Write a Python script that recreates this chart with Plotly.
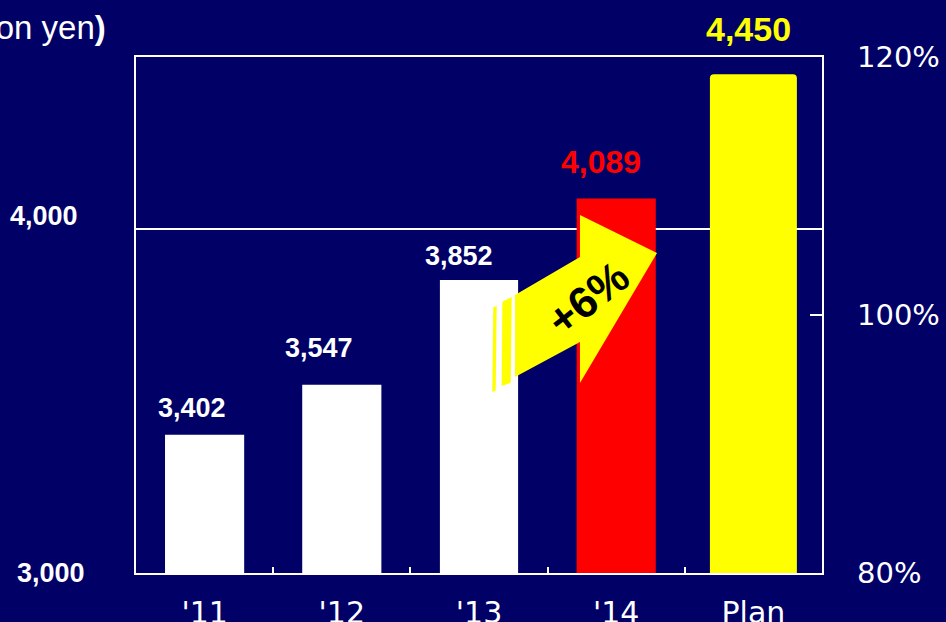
import plotly.graph_objects as go

# ---- data ----
categories = ["'11", "'12", "'13", "'14", "Plan"]
values = [3402, 3547, 3852, 4089, 4450]
bar_colors = ["#ffffff", "#ffffff", "#ffffff", "#ff0000", "#ffff00"]
label_colors = ["#ffffff", "#ffffff", "#ffffff", "#ff0000", "#ffff00"]
left_ticks = [3000, 4000]
right_ticks = [80, 100, 120]
right_tick_text = ["80%", "100%", "120%"]
growth_text = "+6%"

# ---- layout constants (pixels) ----
W, H = 946, 622
ML, MR, MT, MB = 136, 124, 57, 49
PW, PH = W - ML - MR, H - MT - MB
BG = "#000066"


def px(x, y):
    """Pixel position -> paper coordinates."""
    return (x - ML) / PW, (H - MB - y) / PH


def path_from_px(points):
    pts = [px(x, y) for x, y in points]
    return "M " + " L ".join(f"{a:.4f},{b:.4f}" for a, b in pts) + " Z"


fig = go.Figure()

# historical years
fig.add_trace(go.Bar(
    x=categories[:4], y=values[:4],
    marker=dict(color=bar_colors[:4], line=dict(width=0)),
    width=[0.577, 0.577, 0.57, 0.577],
    hoverinfo="skip",
))
# plan bar (slightly wider, rounded corners)
fig.add_trace(go.Bar(
    x=categories[4:], y=values[4:],
    marker=dict(color=bar_colors[4:], line=dict(width=0), cornerradius=4),
    width=[0.634], hoverinfo="skip",
))
# invisible trace carrying the percentage axis
fig.add_trace(go.Scatter(x=[categories[0]], y=[100], yaxis="y2",
                         mode="markers", marker=dict(opacity=0),
                         hoverinfo="skip", showlegend=False))

# value labels above bars
label_fonts = [
    dict(family="Liberation Sans", size=27, weight="bold"),
    dict(family="Liberation Sans", size=27, weight="bold"),
    dict(family="Liberation Sans", size=27, weight="bold"),
    dict(family="Liberation Sans", size=32, weight=600),
    dict(family="Liberation Sans", size=34, weight=600),
]
label_dy = [27, 37, 23.5, 36.5, 45]
label_dx = [-13, -23, -20, -15, -5]
annotations = []
for cat, v, col, f, dy, dx in zip(categories, values, label_colors,
                                  label_fonts, label_dy, label_dx):
    annotations.append(dict(
        x=cat, y=v, xref="x", yref="y", text=f"{v:,}", showarrow=False,
        yanchor="middle", yshift=dy, xshift=dx, font=dict(color=col, **f),
    ))

# left axis labels
for v, ys, xr in zip(left_ticks, [0, 13], [87, 80]):
    annotations.append(dict(
        x=(xr - ML) / PW, y=v, xref="paper", yref="y", text=f"{v:,}",
        showarrow=False, xanchor="right", yanchor="middle", yshift=ys,
        font=dict(family="Liberation Sans", size=27, color="white", weight="bold"),
    ))

# unit label (partly off the left edge)
ux, uy = px(108, 28)
annotations.append(dict(
    x=ux, y=uy, xref="paper", yref="paper", text="(billion yen<b>)</b>",
    showarrow=False, xanchor="right", yanchor="middle",
    font=dict(family="Liberation Sans", size=33, color="white"),
))

# growth arrow text
gx, gy = px(587, 298)
annotations.append(dict(
    x=gx, y=gy, xref="paper", yref="paper", text=f"<b>{growth_text}</b>",
    showarrow=False, textangle=-38,
    font=dict(family="Liberation Sans", size=44, color="black"),
))

# growth arrow body and tail stripes
arrow = [(515, 295), (580, 257), (580, 215), (657, 253),
         (580, 383), (580, 342), (515, 377)]
stripe_a = [(502.3, 301.7), (511.7, 297), (510.7, 382.7), (501.7, 386)]
stripe_b = [(493.3, 307.3), (496.7, 306), (495.7, 390.7), (492.3, 392)]
shapes = []
for poly in (arrow, stripe_a, stripe_b):
    shapes.append(dict(type="path", xref="paper", yref="paper",
                       path=path_from_px(poly), fillcolor="#ffff00",
                       line=dict(width=0), layer="above"))

fig.update_layout(
    width=W, height=H,
    margin=dict(l=ML, r=MR, t=MT, b=MB, pad=0, autoexpand=False),
    paper_bgcolor=BG, plot_bgcolor=BG,
    barmode="overlay", showlegend=False,
    annotations=annotations, shapes=shapes,
    xaxis=dict(
        type="category", categoryorder="array", categoryarray=categories,
        range=[-0.5, 4.5], automargin=False,
        showline=True, linecolor="white", linewidth=2, mirror=True,
        ticks="inside", tickson="boundaries", ticklen=6,
        tickcolor="white", tickwidth=1.5, showgrid=False,
        tickfont=dict(family="DejaVu Sans", size=30, color="white"),
        ticklabelstandoff=12,
    ),
    yaxis=dict(
        range=[3000, 4500], tickvals=left_ticks, showticklabels=False,
        showgrid=True, gridcolor="white", gridwidth=1.5, automargin=False,
        showline=True, linecolor="white", linewidth=2, mirror=True,
        ticks="", zeroline=False,
    ),
    yaxis2=dict(
        overlaying="y", side="right", range=[80, 120], automargin=False,
        tickvals=right_ticks, ticktext=right_tick_text,
        ticks="inside", ticklen=12, tickcolor="white", tickwidth=1.5,
        showgrid=False, zeroline=False, showline=False,
        tickfont=dict(family="DejaVu Sans", size=29, color="white"),
        ticklabelstandoff=34,
    ),
)

fig.write_html("out.html")
